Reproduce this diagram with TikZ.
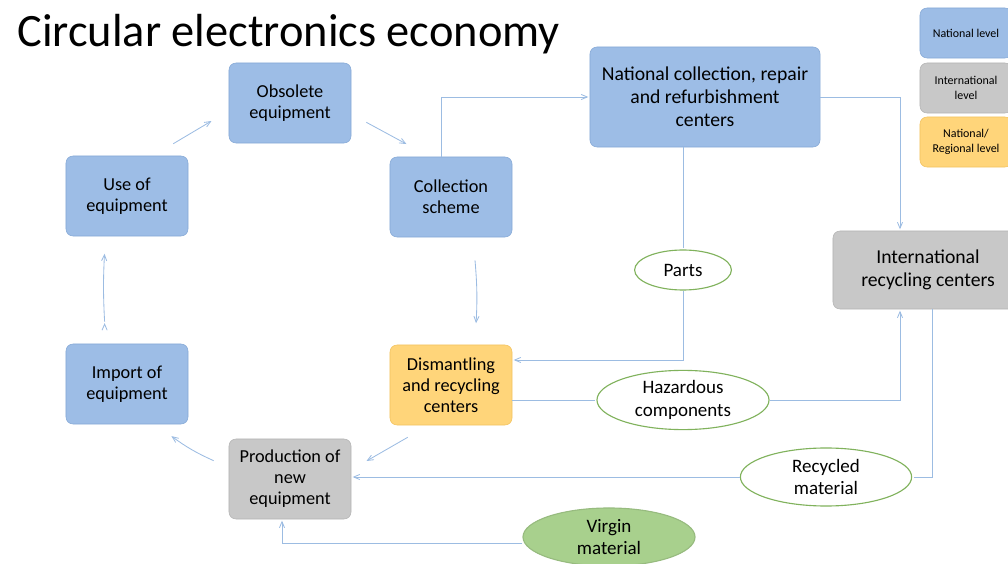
\documentclass[tikz,border=0pt]{standalone}
\usepackage{fontspec}
\setmainfont{Carlito}
\usepackage{tikz}
\usetikzlibrary{arrows,shapes.geometric}

\definecolor{natblue}{HTML}{9DBDE6}
\definecolor{natedge}{HTML}{86A9D6}
\definecolor{intgrey}{HTML}{C8C8C8}
\definecolor{intedge}{HTML}{B4B4B4}
\definecolor{regyellow}{HTML}{FFD57A}
\definecolor{regedge}{HTML}{F2C260}
\definecolor{ovaledge}{HTML}{80B25C}
\definecolor{virgin}{HTML}{A8D08D}
\definecolor{flow}{HTML}{9CBCE2}

\begin{document}
\begin{tikzpicture}[x=0.025cm,y=-0.025cm,->,>=angle 45,shorten >=1pt,
  flow line/.style={draw=flow,line width=0.6pt},
  blue node/.style={rectangle,rounded corners=5pt,fill=natblue,draw=natedge,
    align=center,font=\fontsize{13}{15}\selectfont,minimum width=3.05cm,minimum height=2cm},
  grey node/.style={blue node,fill=intgrey,draw=intedge},
  yellow node/.style={blue node,fill=regyellow,draw=regedge},
  key node/.style={blue node,font=\fontsize{8.5}{10.5}\selectfont,minimum width=2.3cm,minimum height=1.25cm},
  oval node/.style={ellipse,fill=white,draw=ovaledge,line width=0.8pt,inner sep=0pt,
    align=center,font=\fontsize{13.5}{16}\selectfont}]
  \useasboundingbox (0,0) rectangle (1008,564);

  \node[anchor=base west,inner sep=0pt,font=\fontsize{33}{40}\selectfont] (0) at (17,47) {Circular electronics economy};

  \node[blue node] (1) at (290,103) {Obsolete\\equipment};
  \node[blue node] (2) at (127,196) {Use of\\equipment};
  \node[blue node] (3) at (451,197) {Collection\\scheme};
  \node[blue node,font=\fontsize{14}{16.5}\selectfont,minimum width=5.75cm,minimum height=2.5cm] (4) at (705,97)
    {National collection, repair\\and refurbishment\\centers};
  \node[oval node,minimum width=2.42cm,minimum height=1cm] (5) at (683,270) {Parts};
  \node[blue node] (6) at (127,384) {Import of\\equipment};
  \node[yellow node] (7) at (451,385) {Dismantling\\and recycling\\centers};
  \node[grey node] (8) at (290,479) {Production of\\new\\equipment};
  \node[grey node,font=\fontsize{14}{16.5}\selectfont,minimum width=4.75cm,minimum height=1.95cm] (9) at (928,270)
    {International\\recycling centers};
  \node[oval node,minimum width=4.3cm,minimum height=1.48cm] (10) at (683,400) {Hazardous\\components};
  \node[oval node,minimum width=4.28cm,minimum height=1.45cm] (11) at (826,477) {Recycled\\material};
  \node[oval node,fill=virgin,draw=virgin!90!black,minimum width=4.3cm,minimum height=1.45cm] (12) at (609,537) {Virgin\\material};

  % legend
  \node[key node] (13) at (966,33) {National level};
  \node[key node,fill=intgrey,draw=intedge] (14) at (966,88) {International\\level};
  \node[key node,fill=regyellow,draw=regedge] (15) at (966,142) {National/\\Regional level};

  % the loop
  \path[flow line]
    ([shift={(-15,-12)}]2.north east) edge ([shift={(-16,-23)}]1.south west)
    ([shift={(15,-21)}]1.south east) edge ([shift={(18,-12)}]3.north west)
    ([shift={(24,23)}]3.south) edge[bend left=4] ([shift={(25,-20)}]7.north)
    ([shift={(18,12)}]7.south west) edge ([shift={(14,23)}]8.north east)
    ([shift={(-15,22)}]8.north west) edge[bend left=6] ([shift={(-18,11)}]6.south east)
    ([shift={(-22.4,-22)}]6.north) edge[bend left=3] ([shift={(-22.4,16)}]2.south);

  % material flows
  \draw[flow line] ([xshift=-0.25cm]3.north) |- (4.west);
  \draw[flow line,-] (4.south -| 5.north) -- (5.north);
  \draw[flow line] (5.south) |- ([yshift=0.625cm]7.east);
  \draw[flow line] (4.east) -| ([xshift=-0.7cm]9.north);
  \draw[flow line,-] (7.east |- 10.west) -- (10.west);
  \draw[flow line] (10.east) -| ([xshift=-0.7cm]9.south);
  \draw[flow line,-] ([xshift=0.1cm]9.south) |- (11.east);
  \draw[flow line] (11.west) -- (11.west -| 8.east);
  \draw[flow line] ([yshift=-0.15cm]12.west) -| ([xshift=-0.2cm]8.south);
\end{tikzpicture}
\end{document}
